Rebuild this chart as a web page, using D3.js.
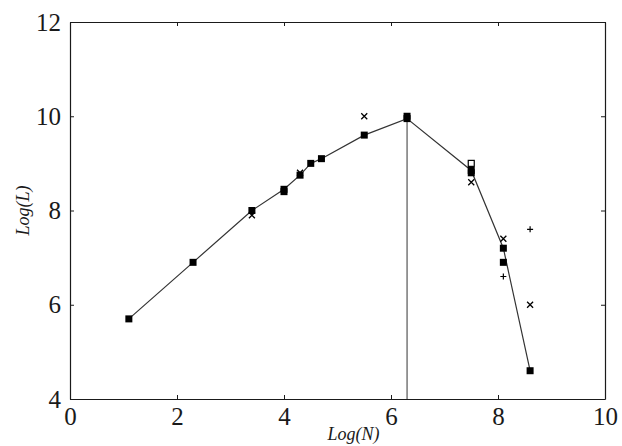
<!DOCTYPE html>
<html>
<head>
<meta charset="utf-8">
<script src="https://cdn.jsdelivr.net/npm/d3@7"></script>
<style>
  body { margin: 0; background: #fff; }
</style>
</head>
<body>
<script>
(()=>{
    const width = 622;
    const height = 446;
    const marginTop = 22;
    const marginRight = 17;
    const marginBottom = 47;
    const marginLeft = 70;
    const serif = "'Liberation Serif'";

    // main curve (filled squares joined by a line)
    const lineN = [1.1, 2.3, 3.4, 4.0, 4.3, 4.5, 4.7, 5.5, 6.3, 7.5, 8.1, 8.6];
    const lineL = [5.7, 6.9, 8.0, 8.45, 8.75, 9.0, 9.1, 9.6, 9.95, 8.85, 7.2, 4.6];

    // extra filled squares
    const squareN = [4.0, 6.3, 7.5, 8.1];
    const squareL = [8.4, 10.0, 8.8, 6.9];

    // open squares
    const openN = [7.5];
    const openL = [9.0];

    // x marks
    const crossN = [3.4, 4.3, 5.5, 7.5, 8.1, 8.6];
    const crossL = [7.9, 8.8, 10.0, 8.6, 7.4, 6.0];

    // + marks
    const plusN = [8.1, 8.6];
    const plusL = [6.6, 7.6];

    // vertical drop line
    const dropN = 6.3;

    const xTicks = [0, 2, 4, 6, 8, 10];
    const yTicks = [4, 6, 8, 10, 12];

    const zip = (a, b) => a.map((d, i) => ({n: d, l: b[i]}));

    const x = d3.scaleLinear()
    .domain([0, 10])
    .range([marginLeft, width - marginRight]);

    const y = d3.scaleLinear()
    .domain([4, 12])
    .range([height - marginBottom, marginTop]);

    const svg = d3.create("svg")
    .attr("width", width)
    .attr("height", height)
    .attr("viewBox", [0, 0, width, height]);

    const ink = "#1a1a1a";

    // frame with inward ticks
    const styleAxis = g => {
        g.select(".domain").attr("stroke", ink).attr("stroke-width", 1.2);
        g.selectAll(".tick line").attr("stroke", ink);
        g.selectAll(".tick text")
        .attr("fill", ink)
        .style("font-family", serif)
        .style("font-size", "25px");
    };

    svg.append("g")
    .attr("transform", `translate(0,${height - marginBottom})`)
    .call(d3.axisBottom(x).tickValues(xTicks).tickSizeInner(-4).tickSizeOuter(0).tickPadding(8).tickFormat(d3.format("d")))
    .call(styleAxis);

    svg.append("g")
    .attr("transform", `translate(0,${marginTop})`)
    .call(d3.axisTop(x).tickValues(xTicks).tickSizeInner(-4).tickSizeOuter(0).tickFormat(""))
    .call(styleAxis);

    svg.append("g")
    .attr("transform", `translate(${marginLeft},0)`)
    .call(d3.axisLeft(y).tickValues(yTicks).tickSizeInner(-4).tickSizeOuter(0).tickPadding(9).tickFormat(d3.format("d")))
    .call(styleAxis);

    svg.append("g")
    .attr("transform", `translate(${width - marginRight},0)`)
    .call(d3.axisRight(y).tickValues(yTicks).tickSizeInner(-4).tickSizeOuter(0).tickFormat(""))
    .call(styleAxis);

    // axis titles
    svg.append("text")
    .attr("x", x(5.3))
    .attr("y", height - 6)
    .attr("text-anchor", "middle")
    .style("font-family", serif)
    .style("font-size", "18px")
    .style("font-style", "italic")
    .attr("fill", ink)
    .text("Log(N)");

    svg.append("text")
    .attr("transform", `translate(29,${y(8)}) rotate(-90)`)
    .attr("text-anchor", "middle")
    .style("font-family", serif)
    .style("font-size", "18px")
    .style("font-style", "italic")
    .attr("fill", ink)
    .text("Log(L)");

    // vertical line from the peak down to the axis
    svg.append("line")
    .attr("x1", x(dropN))
    .attr("x2", x(dropN))
    .attr("y1", y(lineL[lineN.indexOf(dropN)]))
    .attr("y2", y(4))
    .attr("stroke", "#333")
    .attr("stroke-width", 1);

    const line = d3.line()
    .x(d => x(d.n))
    .y(d => y(d.l));

    svg.append("path")
    .datum(zip(lineN, lineL))
    .attr("d", line)
    .attr("fill", "none")
    .attr("stroke", "#333")
    .attr("stroke-width", 1.2);

    const sq = 7;
    svg.selectAll("sqMain")
    .data(zip(lineN, lineL).concat(zip(squareN, squareL)))
    .enter()
    .append("rect")
    .attr("x", d => x(d.n) - sq / 2)
    .attr("y", d => y(d.l) - sq / 2)
    .attr("width", sq)
    .attr("height", sq)
    .attr("fill", "#000");

    svg.selectAll("sqOpen")
    .data(zip(openN, openL))
    .enter()
    .append("rect")
    .attr("x", d => x(d.n) - 3)
    .attr("y", d => y(d.l) - 3)
    .attr("width", 6)
    .attr("height", 6)
    .attr("fill", "#fff")
    .attr("stroke", "#000")
    .attr("stroke-width", 1.2);

    const c = 3;
    svg.selectAll("crosses")
    .data(zip(crossN, crossL))
    .enter()
    .append("path")
    .attr("d", d => `M${x(d.n) - c},${y(d.l) - c}L${x(d.n) + c},${y(d.l) + c}M${x(d.n) - c},${y(d.l) + c}L${x(d.n) + c},${y(d.l) - c}`)
    .attr("stroke", "#000")
    .attr("stroke-width", 1.3);

    const p = 3;
    svg.selectAll("pluses")
    .data(zip(plusN, plusL))
    .enter()
    .append("path")
    .attr("d", d => `M${x(d.n) - p},${y(d.l)}L${x(d.n) + p},${y(d.l)}M${x(d.n)},${y(d.l) - p}L${x(d.n)},${y(d.l) + p}`)
    .attr("stroke", "#000")
    .attr("stroke-width", 1.2);

    d3.select("body").append(() => svg.node());
})()
</script>
</body>
</html>
